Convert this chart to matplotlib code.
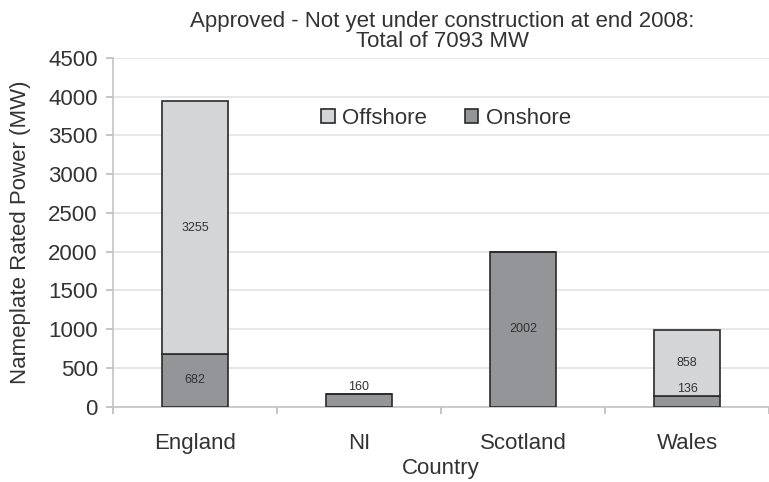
import matplotlib
matplotlib.use("Agg")
import matplotlib.pyplot as plt
import numpy as np

# Data
countries = ["England", "NI", "Scotland", "Wales"]
onshore = [682, 160, 2002, 136]
offshore = [3255, 0, 0, 858]

plt.rcParams["font.family"] = ["Liberation Sans", "DejaVu Sans"]
text_col = "#333333"

fig = plt.figure(figsize=(7.69, 4.82), dpi=100)
ax = fig.add_axes([0.147, 0.156, 0.853, 0.724])

x = np.arange(len(countries))
width = 0.4
on_col = "#949598"
off_col = "#d4d5d7"
edge = "#2a2a2a"

ax.bar(x, onshore, width, color=on_col, edgecolor=edge, linewidth=1.2, zorder=3, label="Onshore")
ax.bar(x, offshore, width, bottom=onshore, color=off_col, edgecolor=edge, linewidth=1.2, zorder=3, label="Offshore")

# value labels
for i in range(len(countries)):
    if onshore[i] > 400:
        ax.text(x[i], onshore[i] / 2, str(onshore[i]), ha="center", va="center", fontsize=9, color=text_col, zorder=4)
    elif onshore[i] > 0:
        ax.text(x[i], onshore[i] + 100, str(onshore[i]), ha="center", va="center", fontsize=9, color=text_col, zorder=4)
    if offshore[i] > 0:
        ax.text(x[i], onshore[i] + offshore[i] / 2, str(offshore[i]), ha="center", va="center", fontsize=9, color=text_col, zorder=4)

ax.set_ylim(0, 4500)
ax.set_yticks(np.arange(0, 4501, 500))
ax.set_xlim(-0.5, 3.475)
ax.set_xticks(x)
ax.set_xticklabels(countries, fontsize=16, color=text_col)
ax.set_xticks(np.arange(-0.5, 3.6, 1), minor=True)
ax.tick_params(axis="x", which="major", length=0, pad=18.5)
ax.tick_params(axis="x", which="minor", length=5, color="#bbbbbb", width=1.2)
ax.tick_params(axis="y", length=5, color="#bbbbbb", width=1.2, labelsize=16, labelcolor=text_col, pad=6)

ax.grid(axis="y", color="#e3e3e3", linewidth=1.2, zorder=0)
for s in ["top", "right"]:
    ax.spines[s].set_visible(False)
ax.spines["left"].set_color("#c4c4c4")
ax.spines["bottom"].set_color("#c4c4c4")
ax.spines["left"].set_linewidth(1.2)
ax.spines["bottom"].set_linewidth(1.2)

ax.set_ylabel("Nameplate Rated Power (MW)", fontsize=16, color=text_col, labelpad=12)
ax.set_xlabel("Country", fontsize=16, color=text_col, labelpad=3)

handles, labels = ax.get_legend_handles_labels()
ax.legend(handles[::-1], labels[::-1], loc="center", bbox_to_anchor=(0.508, 0.826), ncol=2,
          frameon=False, fontsize=16, handlelength=0.6, handleheight=0.6, handletextpad=0.35,
          columnspacing=1.7, labelcolor=text_col)

fig.text(0.575, 0.977, "Approved - Not yet under construction at end 2008:\nTotal of 7093 MW",
         ha="center", va="top", fontsize=16, color=text_col, linespacing=0.95)

fig.savefig("out.png", dpi=100)
